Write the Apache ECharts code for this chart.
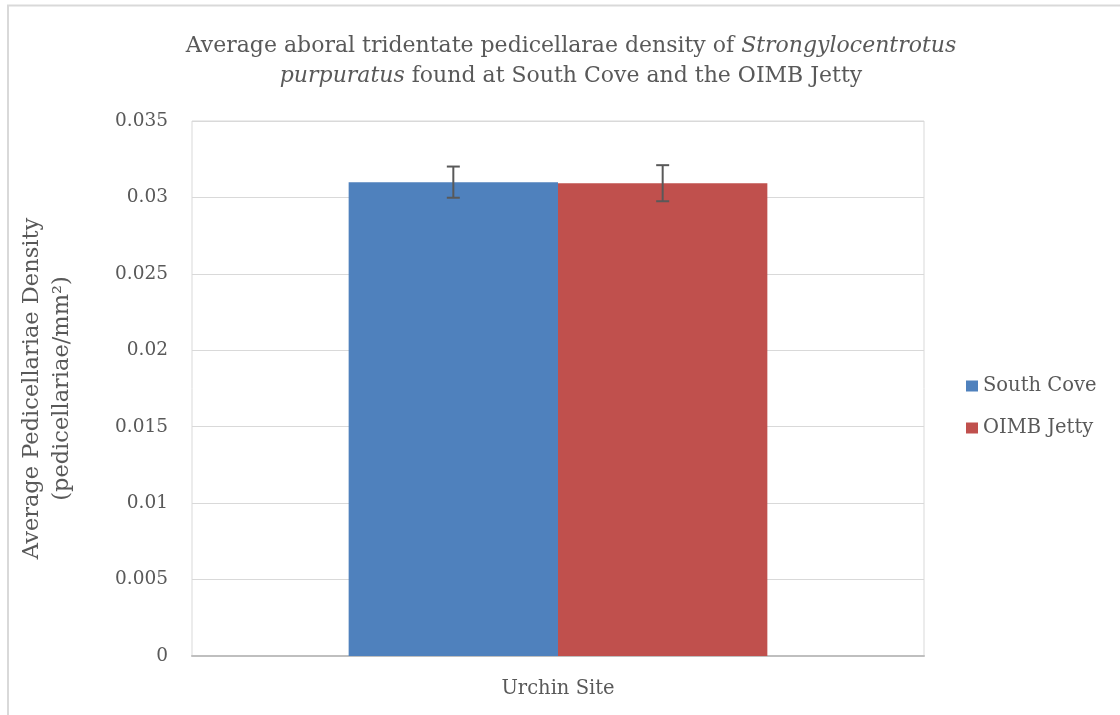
<!DOCTYPE html>
<html>
<head>
<meta charset="utf-8">
<script src="https://cdn.jsdelivr.net/npm/echarts@6/dist/echarts.min.js"></script>
<style>
html,body{margin:0;padding:0;background:#fff;}
#chart{width:1120px;height:715px;}
</style>
</head>
<body>
<div id="chart"></div>
<script>
const categories = [''];
const sites = ['South Cove', 'OIMB Jetty'];
const means = [0.0310, 0.03093];
const errors = [0.00102, 0.00118];
const colors = ['#4F81BD', '#C0504D'];
const yTicks = { min: 0, max: 0.035, interval: 0.005 };

const FONT = '"DejaVu Serif", "Liberation Serif", serif';
const TXT = '#595959';
const CAT_GAP = 0.428;

const chart = echarts.init(document.getElementById('chart'), null, { renderer: 'canvas' });

const barSeries = sites.map((s, i) => ({
  name: s,
  type: 'bar',
  data: [means[i]],
  itemStyle: { color: colors[i] },
  barGap: '0%',
  barCategoryGap: (CAT_GAP * 100) + '%',
  z: 2
}));

const errSeries = {
  type: 'custom',
  name: 'err',
  silent: true,
  z: 5,
  data: sites.map((s, i) => [0, means[i], errors[i], i]),
  renderItem: function (params, api) {
    const cat = api.value(0);
    const m = api.value(1);
    const e = api.value(2);
    const idx = api.value(3);
    const cw = api.size([1, 0])[0];
    const bw = cw * (1 - CAT_GAP) / sites.length;
    const center = api.coord([cat, m]);
    const x = center[0] - cw * (1 - CAT_GAP) / 2 + bw * (idx + 0.5);
    const yTop = api.coord([cat, m + e])[1];
    const yBot = api.coord([cat, m - e])[1];
    const cap = 6.5;
    const style = { stroke: '#595959', lineWidth: 2 };
    return {
      type: 'group',
      children: [
        { type: 'line', shape: { x1: x, y1: yTop, x2: x, y2: yBot }, style: style },
        { type: 'line', shape: { x1: x - cap, y1: yTop, x2: x + cap, y2: yTop }, style: style },
        { type: 'line', shape: { x1: x - cap, y1: yBot, x2: x + cap, y2: yBot }, style: style }
      ]
    };
  }
};

chart.setOption({
  animation: false,
  backgroundColor: '#ffffff',
  textStyle: { fontFamily: FONT, color: TXT },
  title: {
    text: 'Average aboral tridentate pedicellarae density of {i|Strongylocentrotus}\n{i|purpuratus} found at South Cove and the OIMB Jetty',
    left: 566,
    textAlign: 'center',
    top: 26,
    textStyle: {
      fontFamily: FONT,
      fontSize: 22,
      fontWeight: 'normal',
      color: TXT,
      lineHeight: 30,
      rich: {
        i: { fontFamily: FONT, fontSize: 22, fontStyle: 'italic', color: TXT, lineHeight: 30 }
      }
    }
  },
  legend: {
    orient: 'vertical',
    left: 961,
    top: 371,
    itemWidth: 12,
    itemHeight: 11,
    itemGap: 22,
    icon: 'rect',
    data: sites,
    textStyle: { fontFamily: FONT, fontSize: 19.5, color: TXT }
  },
  grid: {
    left: 192, right: 196, top: 121, bottom: 59,
    outerBoundsMode: 'none',
    containLabel: false,
    show: true, borderColor: '#d9d9d9', borderWidth: 1
  },
  xAxis: {
    type: 'category',
    data: categories,
    name: 'Urchin Site',
    nameLocation: 'middle',
    nameGap: 23,
    nameTextStyle: { fontFamily: FONT, fontSize: 19.5, color: TXT },
    axisLine: { lineStyle: { color: '#bfbfbf', width: 2 } },
    axisTick: { show: false },
    axisLabel: { show: false }
  },
  yAxis: {
    type: 'value',
    min: yTicks.min,
    max: yTicks.max,
    interval: yTicks.interval,
    name: 'Average Pedicellariae Density\n(pedicellariae/mm²)',
    nameLocation: 'middle',
    nameRotate: 90,
    nameGap: 115,
    nameTextStyle: { fontFamily: FONT, fontSize: 22.5, color: TXT, lineHeight: 30, align: 'center' },
    axisLine: { show: false },
    axisTick: { show: false },
    splitLine: { lineStyle: { color: '#d9d9d9', width: 1 } },
    axisLabel: {
      fontFamily: FONT, fontSize: 18.5, color: TXT, margin: 24,
      formatter: function (v) { return String(parseFloat(v.toFixed(3))); }
    }
  },
  graphic: [
    { type: 'polyline', shape: { points: [[8, 715], [8, 5.5], [1120, 5.5]] }, style: { stroke: '#d9d9d9', lineWidth: 2, fill: null }, silent: true }
  ],
  series: barSeries.concat([errSeries])
});
</script>
</body>
</html>
